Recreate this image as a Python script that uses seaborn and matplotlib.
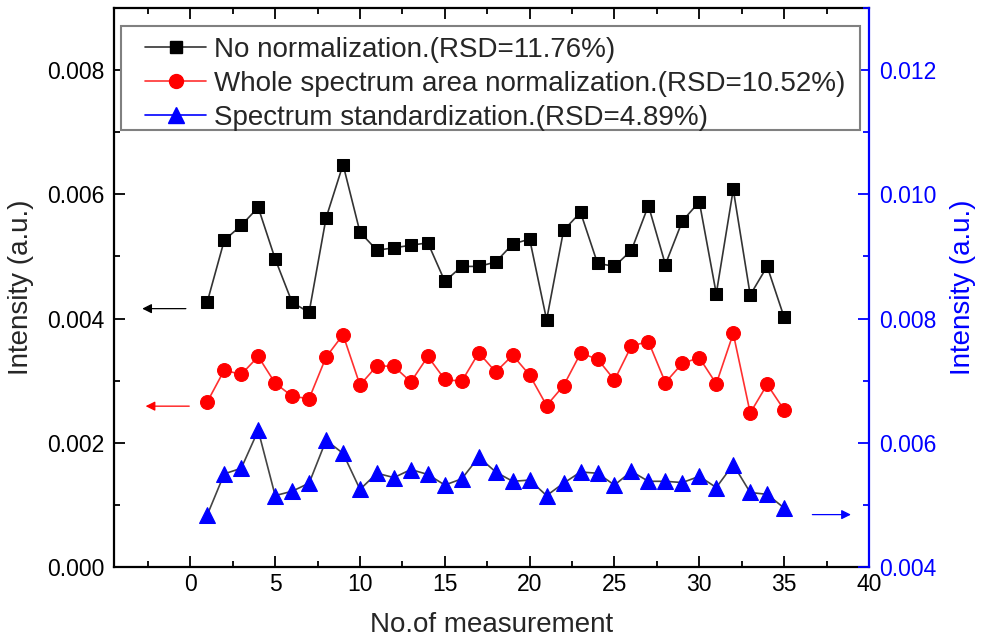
import numpy as np
import matplotlib
matplotlib.use('Agg')
import matplotlib.pyplot as plt
import seaborn as sns
from matplotlib.ticker import MultipleLocator, FormatStrFormatter
from matplotlib.lines import Line2D
from matplotlib.patches import Rectangle

# measurement number 1..35
measurement = list(range(1, 36))

# no normalization (left axis)
no_norm = [0.00427, 0.00526, 0.00550, 0.00579, 0.00496, 0.00426, 0.00410, 0.00562, 0.00648, 0.00539,
           0.00510, 0.00514, 0.00518, 0.00522, 0.00460, 0.00484, 0.00484, 0.00491, 0.00520, 0.00528,
           0.00398, 0.00542, 0.00571, 0.00489, 0.00484, 0.00510, 0.00582, 0.00487, 0.00557, 0.00588,
           0.00440, 0.00608, 0.00438, 0.00484, 0.00402]

# whole spectrum area normalization (left axis)
area_norm = [0.00266, 0.00317, 0.00310, 0.00339, 0.00296, 0.00275, 0.00271, 0.00338, 0.00374, 0.00293,
             0.00324, 0.00323, 0.00298, 0.00339, 0.00302, 0.00299, 0.00345, 0.00314, 0.00341, 0.00309,
             0.00260, 0.00292, 0.00344, 0.00335, 0.00301, 0.00356, 0.00363, 0.00297, 0.00328, 0.00337,
             0.00295, 0.00376, 0.00248, 0.00294, 0.00253]

# spectrum standardization (right axis)
standardized = [0.00484, 0.00550, 0.00559, 0.00620, 0.00515, 0.00522, 0.00535, 0.00604, 0.00583, 0.00525,
                0.00551, 0.00544, 0.00557, 0.00549, 0.00532, 0.00542, 0.00577, 0.00553, 0.00538, 0.00540,
                0.00515, 0.00535, 0.00553, 0.00551, 0.00532, 0.00554, 0.00538, 0.00538, 0.00536, 0.00546,
                0.00528, 0.00565, 0.00520, 0.00517, 0.00495]

labels = ['No normalization.(RSD=11.76%)',
          'Whole spectrum area normalization.(RSD=10.52%)',
          'Spectrum standardization.(RSD=4.89%)']

sns.set_style('ticks')
plt.rcParams['font.family'] = ['Liberation Sans', 'DejaVu Sans']

fig = plt.figure(figsize=(9.81, 6.41), dpi=100)
ax = fig.add_axes([0.1162, 0.1154, 0.7696, 0.8721])
ax2 = ax.twinx()

sns.lineplot(x=measurement, y=no_norm, ax=ax, color='#333333', lw=1.2, marker='s', markersize=9,
             markerfacecolor='black', markeredgecolor='black')
sns.lineplot(x=measurement, y=area_norm, ax=ax, color='#ff3030', lw=1.2, marker='o', markersize=10,
             markerfacecolor='red', markeredgecolor='red')
sns.lineplot(x=measurement, y=standardized, ax=ax2, color='#444444', lw=1.2, marker='^', markersize=11,
             markerfacecolor='blue', markeredgecolor='blue')

ax.set_xlim(-4.5, 40)
ax.set_ylim(0, 0.009)
ax2.set_ylim(0.004, 0.013)

# arrows pointing at each curve's axis
ax.annotate('', xy=(-3.0, 0.00416), xytext=(-0.1, 0.00416),
            arrowprops=dict(arrowstyle='-|>', color='black', lw=0.9, mutation_scale=14))
ax.annotate('', xy=(-2.8, 0.00259), xytext=(0.1, 0.00259),
            arrowprops=dict(arrowstyle='-|>', color='red', lw=0.9, mutation_scale=14))
ax2.annotate('', xy=(39.1, 0.004844), xytext=(36.5, 0.004844),
             arrowprops=dict(arrowstyle='-|>', color='blue', lw=0.9, mutation_scale=14))

ax.xaxis.set_major_locator(MultipleLocator(5))
ax.xaxis.set_minor_locator(MultipleLocator(2.5))
ax.yaxis.set_major_locator(MultipleLocator(0.002))
ax.yaxis.set_minor_locator(MultipleLocator(0.001))
ax.yaxis.set_major_formatter(FormatStrFormatter('%.3f'))
ax2.yaxis.set_major_locator(MultipleLocator(0.002))
ax2.yaxis.set_minor_locator(MultipleLocator(0.001))
ax2.yaxis.set_major_formatter(FormatStrFormatter('%.3f'))

ax.tick_params(axis='both', which='both', direction='in', top=True, right=False, width=1.3,
               labelsize=16.5, colors='black')
ax.tick_params(axis='both', which='major', length=8)
ax.tick_params(axis='both', which='minor', length=4)
ax.tick_params(axis='y', which='major', pad=7)
ax.tick_params(axis='x', which='major', pad=4)
ax2.tick_params(axis='y', which='both', direction='in', width=1.3, labelsize=16.5,
                colors='blue', pad=7)
ax2.tick_params(axis='y', which='major', length=8)
ax2.tick_params(axis='y', which='minor', length=4)

for side in ['left', 'bottom', 'top']:
    ax.spines[side].set_linewidth(1.6)
    ax.spines[side].set_color('black')
ax.spines['right'].set_visible(False)
for side in ['left', 'bottom', 'top']:
    ax2.spines[side].set_visible(False)
ax2.spines['right'].set_linewidth(1.6)
ax2.spines['right'].set_color('blue')

ax.set_xlabel('No.of measurement', fontsize=20)
ax.set_ylabel('Intensity (a.u.)', fontsize=20)
ax2.set_ylabel('Intensity (a.u.)', fontsize=20, color='blue')
ax.xaxis.set_label_coords(0.5, -0.08)
ax.yaxis.set_label_coords(-0.106, 0.5)
ax2.yaxis.set_label_coords(1.107, 0.5)

# legend box drawn separately so the padding can match the original
box = Rectangle((0.0089, 0.7818), 0.9791, 0.1865, transform=ax2.transAxes, facecolor='white',
                edgecolor='#808080', lw=1.5, zorder=5)
ax2.add_patch(box)

handles = [Line2D([], [], color='#333333', lw=1.2, marker='s', markersize=9,
                  markerfacecolor='black', markeredgecolor='black'),
           Line2D([], [], color='#ff3030', lw=1.2, marker='o', markersize=10,
                  markerfacecolor='red', markeredgecolor='red'),
           Line2D([], [], color='blue', lw=1.2, marker='^', markersize=11,
                  markerfacecolor='blue', markeredgecolor='blue')]
leg = ax2.legend(handles, labels, loc='upper left', bbox_to_anchor=(0.041, 0.949),
                 borderaxespad=0, fontsize=20, frameon=False,
                 handlelength=2.2, handletextpad=0.29, labelspacing=0.3, borderpad=0)
leg.set_zorder(6)

fig.savefig('out.png', dpi=100)
